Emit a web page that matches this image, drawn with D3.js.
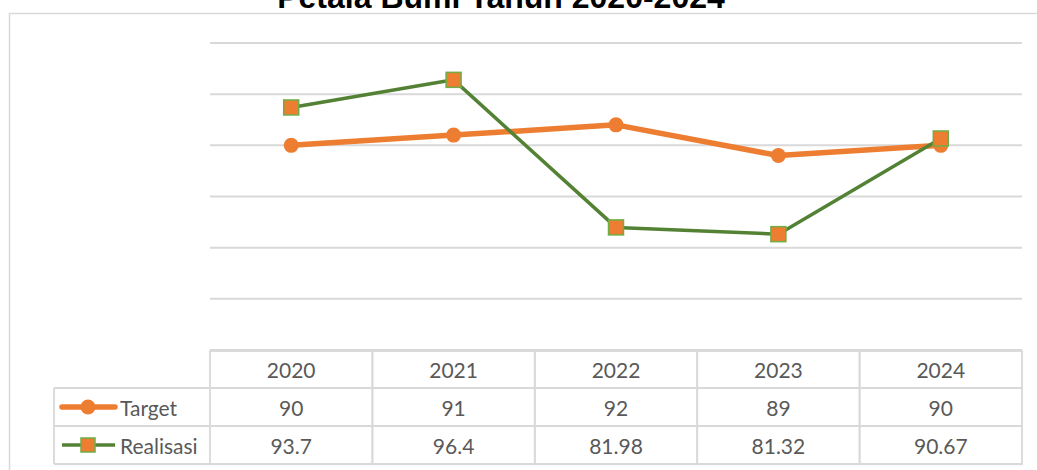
<!DOCTYPE html>
<html>
<head>
<meta charset="utf-8">
<script src="https://cdn.jsdelivr.net/npm/d3@7"></script>
<style>
  body { margin: 0; background: #fff; }
  svg { display: block; }
</style>
</head>
<body>
<svg id="chart" width="1037" height="470"></svg>
<script>
var title = "Petala Bumi Tahun 2020-2024";
var years = ["2020", "2021", "2022", "2023", "2024"];
var target = [90, 91, 92, 89, 90];
var realisasi = [93.7, 96.4, 81.98, 81.32, 90.67];
var realisasiLabels = ["93.7", "96.4", "81.98", "81.32", "90.67"];
var yTicks = [70, 75, 80, 85, 90, 95, 100];

var orange = "#ED7D31";
var green = "#548235";
var grid = "#d9d9d9";
var textCol = "#595959";
var font = "Lato, 'Open Sans', sans-serif";

var svg = d3.select("#chart");

var x = d3.scaleBand().domain(years).range([210, 1022]);
var y = d3.scaleLinear().domain([70, 100]).range([350, 43]);

// outer chart border (left + top only, rest is cropped)
svg.append("path")
    .attr("d", "M9.5,470 L9.5,13.5 L1037,13.5")
    .attr("fill", "none")
    .attr("stroke", grid)
    .attr("stroke-width", 1.5);

// title, cut by the top edge like in the source image
svg.append("text")
    .attr("x", 501)
    .attr("y", 8)
    .attr("text-anchor", "middle")
    .attr("font-family", "'Liberation Sans', Arial, sans-serif")
    .attr("font-weight", "bold")
    .attr("font-size", 32)
    .attr("fill", "#000")
    .text(title);

// gridlines
svg.selectAll(".grid")
    .data(yTicks)
    .enter()
    .append("line")
    .attr("class", "grid")
    .attr("x1", 210)
    .attr("x2", 1022)
    .attr("y1", d => y(d))
    .attr("y2", d => y(d))
    .attr("stroke", grid)
    .attr("stroke-width", 2);

// data table
var rowTop = [351, 388, 426];
var rowBot = [388, 426, 464];
var tbl = svg.append("g");

years.forEach(function (yr, i) {
    tbl.append("rect")
        .attr("x", x(yr))
        .attr("y", rowTop[0])
        .attr("width", x.bandwidth())
        .attr("height", rowBot[2] - rowTop[0])
        .attr("fill", "none")
        .attr("stroke", grid)
        .attr("stroke-width", 1.8);
});
[rowTop[1], rowTop[2], rowBot[2]].forEach(function (yy) {
    tbl.append("line")
        .attr("x1", 54).attr("x2", 1022)
        .attr("y1", yy).attr("y2", yy)
        .attr("stroke", grid).attr("stroke-width", 1.8);
});
tbl.append("line")
    .attr("x1", 54).attr("x2", 54)
    .attr("y1", rowTop[1]).attr("y2", rowBot[2])
    .attr("stroke", grid).attr("stroke-width", 1.8);

function cellText(str, cx, cy) {
    tbl.append("text")
        .attr("x", cx)
        .attr("y", cy)
        .attr("text-anchor", "middle")
        .attr("dominant-baseline", "central")
        .attr("font-family", font)
        .attr("font-size", 21)
        .attr("fill", textCol)
        .text(str);
}

years.forEach(function (yr, i) {
    var cx = x(yr) + x.bandwidth() / 2;
    cellText(yr, cx, (rowTop[0] + rowBot[0]) / 2);
    cellText(String(target[i]), cx, (rowTop[1] + rowBot[1]) / 2);
    cellText(realisasiLabels[i], cx, (rowTop[2] + rowBot[2]) / 2);
});

// legend keys in table
var ty = (rowTop[1] + rowBot[1]) / 2;
var ry = (rowTop[2] + rowBot[2]) / 2;
tbl.append("line").attr("x1", 62).attr("x2", 115).attr("y1", ty).attr("y2", ty)
    .attr("stroke", orange).attr("stroke-width", 5.5).attr("stroke-linecap", "round");
tbl.append("circle").attr("cx", 88).attr("cy", ty).attr("r", 7.5).attr("fill", orange);
tbl.append("line").attr("x1", 62).attr("x2", 115).attr("y1", ry).attr("y2", ry)
    .attr("stroke", green).attr("stroke-width", 3.5);
tbl.append("rect").attr("x", 81).attr("y", ry - 7).attr("width", 14).attr("height", 14)
    .attr("fill", orange).attr("stroke", "#70AD47").attr("stroke-width", 1.5);

[["Target", ty], ["Realisasi", ry]].forEach(function (d) {
    tbl.append("text")
        .attr("x", 120)
        .attr("y", d[1])
        .attr("dominant-baseline", "central")
        .attr("font-family", font)
        .attr("font-size", 21)
        .attr("fill", textCol)
        .text(d[0]);
});

// lines
var line = d3.line()
    .x((d, i) => x(years[i]) + x.bandwidth() / 2)
    .y(d => y(d));

svg.append("path")
    .datum(target)
    .attr("d", line)
    .attr("fill", "none")
    .attr("stroke", orange)
    .attr("stroke-width", 5.5)
    .attr("stroke-linejoin", "round");

svg.selectAll(".tdot")
    .data(target)
    .enter()
    .append("circle")
    .attr("class", "tdot")
    .attr("cx", (d, i) => x(years[i]) + x.bandwidth() / 2)
    .attr("cy", d => y(d))
    .attr("r", 7.5)
    .attr("fill", orange);

svg.append("path")
    .datum(realisasi)
    .attr("d", line)
    .attr("fill", "none")
    .attr("stroke", green)
    .attr("stroke-width", 3.5)
    .attr("stroke-linejoin", "round");

svg.selectAll(".rdot")
    .data(realisasi)
    .enter()
    .append("rect")
    .attr("class", "rdot")
    .attr("x", (d, i) => x(years[i]) + x.bandwidth() / 2 - 7.5)
    .attr("y", d => y(d) - 7.5)
    .attr("width", 15)
    .attr("height", 15)
    .attr("fill", orange)
    .attr("stroke", "#70AD47")
    .attr("stroke-width", 1.5);
</script>
</body>
</html>
